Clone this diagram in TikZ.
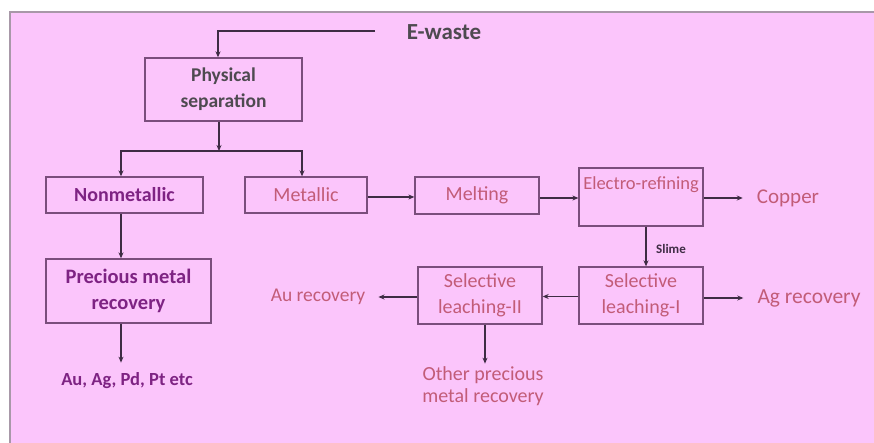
\documentclass[tikz,border=0pt]{standalone}
\usepackage{fontspec}
\setmainfont{Carlito}
\usetikzlibrary{arrows.meta,calc}
\definecolor{bgpink}{HTML}{FBC5FB}
\definecolor{frameg}{HTML}{A898A8}
\definecolor{boxc}{HTML}{7A4E7C}
\definecolor{linec}{HTML}{3E2C44}
\definecolor{purp}{HTML}{7E2383}
\definecolor{rose}{HTML}{C25C78}
\definecolor{greyt}{HTML}{4E4A50}
\tikzset{
  x=1pt,y=-1pt,
  box/.style={draw=boxc,line width=1.3pt,inner sep=0pt,align=center,font=\fontsize{20}{25}\selectfont},
  lbl/.style={inner sep=0pt,align=center,font=\fontsize{20}{23}\selectfont},
  conn/.style={draw=linec,line width=1.2pt,-{Stealth[length=6pt,width=5pt]}},
  plain/.style={draw=linec,line width=1.2pt}
}
\begin{document}
\begin{tikzpicture}
\useasboundingbox (0,0) rectangle (874,443);
\fill[white] (0,0) rectangle (874,443);
\fill[bgpink] (10,12) rectangle (874,443);
\draw[frameg,line width=1.5pt] (10,443) -- (10,12) -- (874,12);

% nodes
\node[lbl,font=\fontsize{23}{26}\selectfont\bfseries,text=greyt] (ewaste) at (444,32) {E-waste};
\node[box,minimum width=157pt,minimum height=63pt,text=greyt,font=\fontsize{19.5}{26}\selectfont\bfseries] (phys) at (223.5,89.5) {Physical\\separation};
\node[box,minimum width=157pt,minimum height=36pt,text=purp,font=\fontsize{20}{25}\selectfont\bfseries] (nonmet) at (124.5,195) {Nonmetallic};
\node[box,minimum width=122pt,minimum height=36pt,text=rose] (met) at (306,195) {Metallic};
\node[box,minimum width=124pt,minimum height=37pt,text=rose] (melt) at (477,195.5) {Melting};
\node[box,minimum width=124pt,minimum height=58pt] (elec) at (641,197) {};
\node[lbl,text=rose,font=\fontsize{18.5}{22}\selectfont] (electxt) at (641,185) {Electro-refining};
\node[lbl,text=rose,font=\fontsize{21}{24}\selectfont] (copper) at (788,198) {Copper};
\node[box,minimum width=124pt,minimum height=57pt,text=rose,font=\fontsize{20}{26}\selectfont] (sl1) at (641,295.5) {Selective\\leaching-I};
\node[box,minimum width=124pt,minimum height=57pt,text=rose,font=\fontsize{20}{26}\selectfont] (sl2) at (480,295.5) {Selective\\leaching-II};
\node[lbl,text=rose,font=\fontsize{21.5}{24}\selectfont] (ag) at (809,298) {Ag recovery};
\node[lbl,text=rose,font=\fontsize{19.5}{24}\selectfont] (au) at (318,297) {Au recovery};
\node[lbl,text=linec,font=\fontsize{13}{15}\selectfont\bfseries] (slime) at (671,249) {Slime};
\node[box,minimum width=165pt,minimum height=64pt,text=purp,font=\fontsize{20.5}{26}\selectfont\bfseries] (prec) at (128.5,291) {Precious metal\\recovery};
\node[lbl,text=purp,font=\fontsize{18.5}{22}\selectfont\bfseries] (auag) at (127,381) {Au, Ag, Pd, Pt etc};
\node[lbl,text=rose,font=\fontsize{20}{22}\selectfont] (other) at (483,386) {Other precious\\metal recovery};

% connectors
\coordinate (estart) at (375,31);
\draw[conn] (estart) -| ([xshift=-5.5pt]phys.north);
\coordinate (split) at (219,151);
\draw[conn] ([xshift=-4.5pt]phys.south) -- (split);
\draw[conn] (split) -| ([xshift=-3.5pt]nonmet.north);
\draw[conn] (split) -| ([xshift=-4pt]met.north);
\draw[conn] ([yshift=-2pt]met.east) -- ([yshift=-2pt]met.east -| melt.west);
\draw[conn] ([yshift=-2.5pt]melt.east) -- ([yshift=-2.5pt]melt.east -| elec.west);
\draw[conn,shorten >=14pt] (elec.east |- copper.west) -- (copper.west);
\draw[conn] ([xshift=5pt]elec.south) -- ([xshift=5pt]sl1.north);
\draw[conn,shorten >=14pt] (sl1.east |- ag.west) -- (ag.west);
\draw[conn] ([yshift=-1pt]sl1.west) -- ([yshift=-1pt]sl2.east);
\draw[conn,shorten >=13pt] ([yshift=-1.5pt]sl2.west) -- ([yshift=-1.5pt]sl2.west -| au.east);
\draw[conn] ([xshift=5pt]sl2.south) -- ++(0,39);
\draw[conn] ([xshift=-3.5pt]nonmet.south) -- ([xshift=-3.5pt]nonmet.south |- prec.north);
\draw[conn] ([xshift=-7.5pt]prec.south) -- ++(0,39);
\end{tikzpicture}
\end{document}
